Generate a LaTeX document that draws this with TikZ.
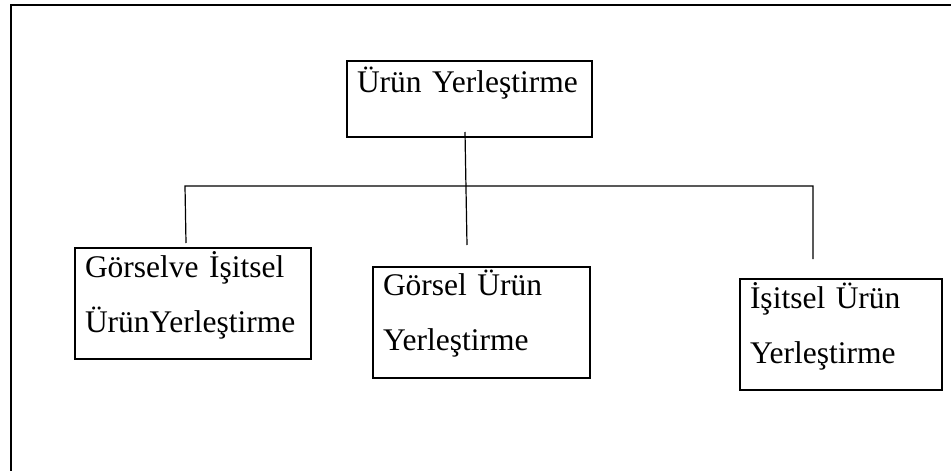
\documentclass[tikz,border=0pt]{standalone}
\usepackage{fontspec}
\setmainfont{Liberation Serif}
\usepackage{tikz}
\usetikzlibrary{positioning,calc}

\begin{document}
\begin{tikzpicture}[x=1pt,y=-1pt,
    kutu/.style={draw,line width=1.5pt,anchor=north west,outer sep=0pt,
      inner xsep=10pt,inner ysep=0pt,align=left,
      font=\fontsize{31.5}{55}\selectfont},
    bag/.style={line width=1.2pt}]
    \useasboundingbox (0,0) rectangle (951,471);
    \draw[line width=1.6pt] (11,471) -- (11,5) -- (951,5);
    \node[kutu,text width=225pt,text height=31pt,text depth=45pt] (urun) at (347,61) {Ürün Yerleştirme};
    \node[kutu,text width=216pt,text height=29pt,text depth=82pt] (gorselisitsel) at (75,248) {Görselve İşitsel\\ÜrünYerleştirme};
    \node[kutu,text width=197pt,text height=28pt,text depth=83pt] (gorsel) at (373,267) {Görsel Ürün\\Yerleştirme};
    \node[kutu,text width=182pt,text height=29pt,text depth=82pt] (isitsel) at (740,279) {İşitsel Ürün\\Yerleştirme};
    \coordinate (urun-ic) at (465,132);
    \coordinate (kol-l) at (185,186);
    \coordinate (kol-r) at (813,186);
    \coordinate (uc-l) at (186,243);
    \coordinate (uc-m) at (467,245);
    \coordinate (uc-r) at (813,259);
    \draw[bag] (urun-ic) -- (uc-m);
    \draw[bag] (uc-l) -- (kol-l) -- (kol-r) -- (uc-r);
\end{tikzpicture}
\end{document}
